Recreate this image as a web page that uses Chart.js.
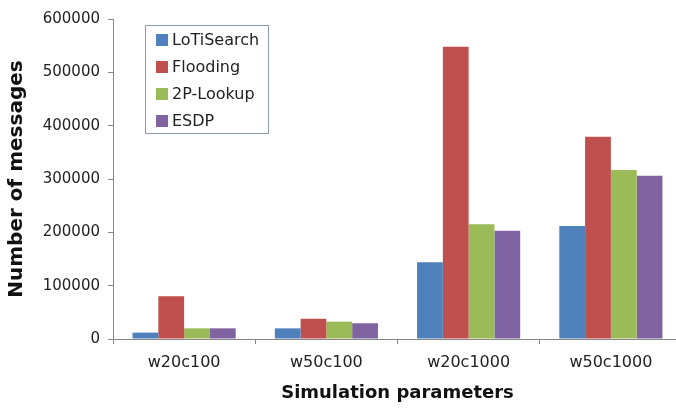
<!DOCTYPE html>
<html><head><meta charset="utf-8">
<script src="https://cdn.jsdelivr.net/npm/chart.js@4/dist/chart.umd.min.js"></script>
<style>html,body{margin:0;padding:0;overflow:hidden;background:#fff}</style>
</head><body>
<canvas id="c" width="684" height="408"></canvas>
<script>
const categories = ['w20c100', 'w50c100', 'w20c1000', 'w50c1000'];
const seriesNames = ['LoTiSearch', 'Flooding', '2P-Lookup', 'ESDP'];
const loTiSearch = [12000, 20000, 144000, 212000];
const flooding = [80000, 38000, 548000, 379000];
const twoPLookup = [20000, 32500, 215000, 317000];
const esdp = [20000, 29500, 203000, 306000];
const yTickValues = [0, 100000, 200000, 300000, 400000, 500000, 600000];
const seriesColors = ['#4F81BD', '#C0504D', '#9BBB59', '#8064A2'];

const seriesValues = [loTiSearch, flooding, twoPLookup, esdp];

const boxLegend = {
  id: 'boxLegend',
  afterDraw(chart) {
    const ctx = chart.ctx;
    ctx.save();
    ctx.fillStyle = '#fff';
    ctx.fillRect(145.5, 25.5, 123, 108);
    ctx.strokeStyle = '#8E9CB2';
    ctx.lineWidth = 1;
    ctx.strokeRect(145.5, 25.5, 123, 108);
    ctx.font = '16px "DejaVu Sans"';
    ctx.textBaseline = 'middle';
    chart.data.datasets.forEach((ds, i) => {
      const y = 40 + i * 27;
      ctx.fillStyle = ds.backgroundColor;
      ctx.fillRect(156, y - 6, 12, 12);
      ctx.fillStyle = '#222';
      ctx.fillText(ds.label, 172, y + 1);
    });
    ctx.restore();
  }
};

new Chart(document.getElementById('c'), {
  type: 'bar',
  data: {
    labels: categories,
    datasets: seriesNames.map((name, i) => ({
      label: name,
      data: seriesValues[i],
      backgroundColor: seriesColors[i],
      borderWidth: 0,
      categoryPercentage: 0.725,
      barPercentage: 1.0
    }))
  },
  options: {
    responsive: false,
    animation: false,
    devicePixelRatio: 1,
    layout: { padding: { top: 19, right: 2, bottom: 0, left: 0 } },
    plugins: { legend: { display: false }, tooltip: { enabled: false } },
    scales: {
      x: {
        grid: { display: true, drawOnChartArea: false, drawTicks: true, tickLength: 5, color: '#868686', offset: true },
        border: { display: true, color: '#868686' },
        ticks: { font: { family: 'DejaVu Sans', size: 16 }, color: '#222', padding: 9, maxRotation: 0 },
        title: { display: true, text: 'Simulation parameters', font: { family: 'DejaVu Sans', size: 18, weight: 'bold' }, color: '#111', padding: { top: 0, bottom: 4 } },
        afterFit(s) { s.height = 69; }
      },
      y: {
        min: 0,
        max: 600000,
        afterBuildTicks(s) { s.ticks = yTickValues.map(v => ({ value: v })); },
        grid: { display: true, drawOnChartArea: false, drawTicks: true, tickLength: 5, color: '#868686' },
        border: { display: true, color: '#868686' },
        ticks: { font: { family: 'DejaVu Sans', size: 15 }, color: '#222', padding: 8, callback: v => String(v) },
        title: { display: true, text: 'Number of messages', font: { family: 'DejaVu Sans', size: 20, weight: 'bold' }, color: '#111', padding: { top: 5, bottom: 0 } },
        afterFit(s) { s.width = 113; }
      }
    }
  },
  plugins: [boxLegend]
});
</script>
</body></html>
